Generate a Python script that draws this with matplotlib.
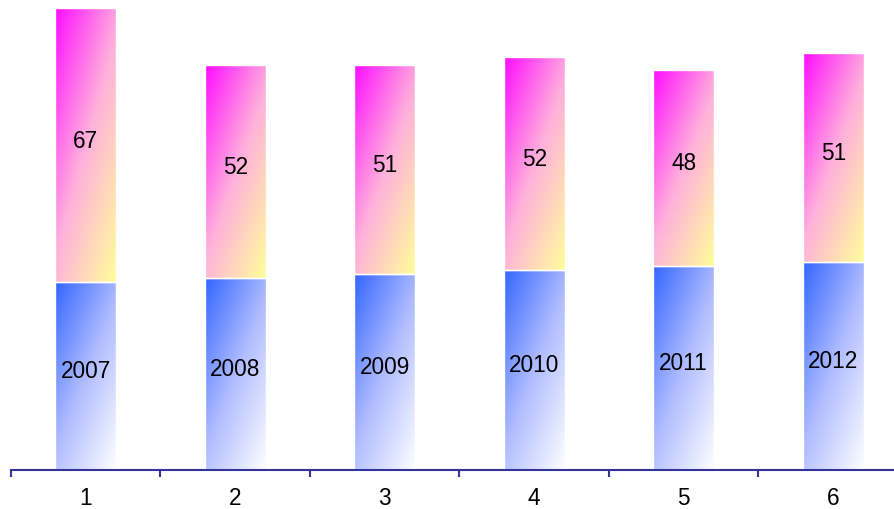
import matplotlib.pyplot as plt
import numpy as np
from matplotlib.colors import LinearSegmentedColormap

plt.rcParams['font.family'] = ['Liberation Sans', 'DejaVu Sans']

categories = ['1', '2', '3', '4', '5', '6']
years = [2007, 2008, 2009, 2010, 2011, 2012]
upper = [67, 52, 51, 52, 48, 51]

x = np.arange(1, len(categories) + 1)
bar_w = 0.41
y_lo, y_hi = 1961.1, 2076.0


def diag_gradient(colors, n=200):
    # top-left -> bottom-right across the bar box
    cmap = LinearSegmentedColormap.from_list('g', colors)
    u = np.linspace(0, 1, n)
    uu, vv = np.meshgrid(u, u)
    t = 0.45 * uu + 0.55 * vv
    return cmap(t)


grad_low = diag_gradient(['#3366ff', '#b0bcff', '#ffffff'])
grad_up = diag_gradient(['#ff0cff', '#ffb0dc', '#ffff99'])

fig = plt.figure(figsize=(8.95, 5.09), dpi=100)
ax = fig.add_axes([11 / 895, 39 / 509, 897 / 895, 470 / 509])
ax.set_xlim(0.5, 6.5)
ax.set_ylim(y_lo, y_hi)

low = ax.bar(x, years, bar_w, color='none', edgecolor='none')
up = ax.bar(x, upper, bar_w, bottom=years, color='none', edgecolor='none')

for bars, grad in ((low, grad_low), (up, grad_up)):
    for p in bars:
        x0, y0 = p.get_x(), max(p.get_y(), y_lo)
        x1, y1 = x0 + p.get_width(), p.get_y() + p.get_height()
        im = ax.imshow(grad, extent=(x0, x1, y0, y1), origin='upper',
                       aspect='auto', interpolation='bilinear', zorder=1)
        im.set_clip_path(p)
        ax.add_patch(plt.Rectangle((x0, y0), x1 - x0, y1 - y0, fill=False,
                                   edgecolor='white', lw=1.0, zorder=2))

for xi, yv, uv in zip(x, years, upper):
    ax.annotate(str(yv), (xi, (y_lo + yv) / 2), xytext=(0, 3),
                textcoords='offset points', ha='center', va='center',
                fontsize=16.3, zorder=3)
    ax.annotate(str(uv), (xi, yv + uv / 2), xytext=(0, 3),
                textcoords='offset points', ha='center', va='center',
                fontsize=16.3, zorder=3)

for s in ('top', 'right', 'left'):
    ax.spines[s].set_visible(False)
ax.spines['bottom'].set_color('#333399')
ax.spines['bottom'].set_linewidth(1.5)
ax.set_yticks([])
ax.set_xticks(x)
ax.set_xticklabels(categories, fontsize=16.3)
ax.set_xticks(np.arange(0.5, 7, 1), minor=True)
ax.tick_params(axis='x', which='major', length=0, pad=12)
ax.tick_params(axis='x', which='minor', length=5, width=1.5,
               color='#333399', direction='out')

fig.savefig('out.png', dpi=100)
